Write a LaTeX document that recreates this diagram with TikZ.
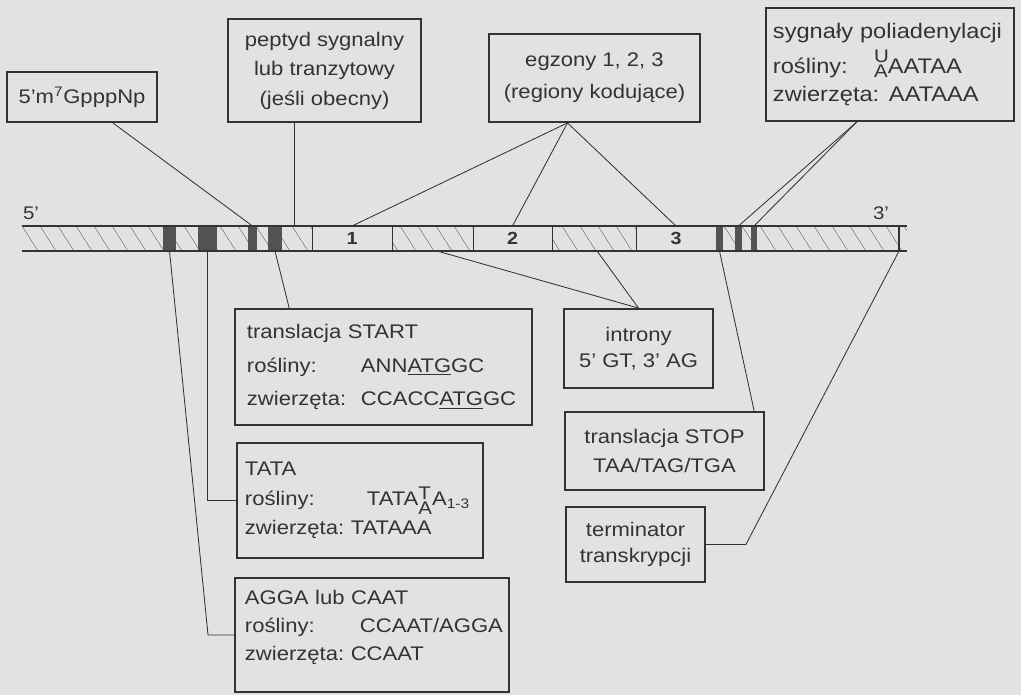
\documentclass[tikz,border=0pt]{standalone}
\usepackage{fontspec}
\setmainfont{Liberation Sans}[FakeStretch=1.12]
\definecolor{paper}{gray}{0.885}
\definecolor{ink}{gray}{0.2}
\definecolor{bandgray}{gray}{0.32}
\newcommand{\pairfont}{\fontsize{13}{13}\selectfont}
\newcommand{\stackpair}[4]{\raisebox{#3}{\rlap{\pairfont #1}}\raisebox{#4}{\pairfont #2}}
\begin{document}
\begin{tikzpicture}[x=0.025cm, y=-0.025cm,
        box/.style={draw=ink, line width=1.3pt, text=ink, align=center, inner sep=0pt, font=\fontsize{14}{21}\selectfont},
        list/.style={box, align=left},
        exon/.style={draw=ink, line width=0.7pt, fill=paper, text=ink, minimum height=0.625cm, inner sep=0pt, outer sep=0pt, font=\fontsize{12.5}{12.5}\selectfont\bfseries},
        band/.style={fill=bandgray, minimum height=0.625cm, inner sep=0pt, outer sep=0pt},
        endlabel/.style={text=ink, inner sep=0pt, font=\fontsize{13}{13}\selectfont},
        hatch/.style={draw=ink!70, line width=0.35pt},
        bar/.style={draw=ink, line width=0.8pt},
        link/.style={draw=ink, line width=0.6pt}
    ]
        \fill[paper] (0,0) rectangle (1021,695);
        \useasboundingbox (0,0) rectangle (1021,695);

        % Hatched gene body
        \begin{scope}
            \clip (22,226) rectangle (907,251);
            \foreach \x in {4,22,...,910}
                \draw[hatch] (\x,226) -- ++(16,25);
        \end{scope}

        % Exons
        \node[exon, minimum width=2cm] (ex1) at (352,238.5) {1};
        \node[exon, minimum width=1.975cm] (ex2) at (512.5,238.5) {2};
        \node[exon, minimum width=2cm] (ex3) at (676,238.5) {3};

        % Signal regions on the gene
        \node[band, minimum width=0.325cm] (b1) at (169.5,238.5) {};
        \node[band, minimum width=0.475cm] (b2) at (207.5,238.5) {};
        \node[band, minimum width=0.225cm] (b3) at (252.5,238.5) {};
        \node[band, minimum width=0.35cm] (b4) at (275,238.5) {};
        \node[band, minimum width=0.175cm] (b5) at (719.5,238.5) {};
        \node[band, minimum width=0.175cm] (b6) at (738.5,238.5) {};
        \node[band, minimum width=0.15cm] (b7) at (754,238.5) {};

        % Gene outline
        \draw[bar] (22,226) -- (907,226) (22,251) -- (907,251) (899,226) -- (899,251);
        \coordinate (pep) at (294,226);
        \coordinate (in1) at (437,251);
        \coordinate (in2) at (597,251);
        \coordinate (tend) at (899,251);
        \node[endlabel] (five) at (31,213) {5'};
        \node[endlabel] (three) at (881,213) {3'};

        % Boxes above the gene
        \node[box, minimum width=3.75cm, minimum height=1.25cm] (cap) at (82,97) {5'm\textsuperscript{7}GpppNp};
        \node[box, minimum width=4.825cm, minimum height=2.575cm] (peptyd) at (324.5,70.5) {peptyd sygnalny\\lub tranzytowy\\(jeśli obecny)};
        \node[box, minimum width=5.275cm, minimum height=2.2cm, font=\fontsize{14}{23}\selectfont] (egzony) at (594.5,78) {egzony 1, 2, 3\\(regiony kodujące)};
        \node[list, text width=5.85cm, inner xsep=0.175cm, minimum height=2.825cm, font=\fontsize{15}{20}\selectfont] (polya) at (890,64.5) {sygnały poliadenylacji\\[5pt]\makebox[2.53cm][l]{rośliny:}\stackpair{U}{A}{0.5em}{-0.2em}AATAA\\\makebox[2.9cm][l]{zwierzęta:}AATAAA};

        % Boxes below the gene
        \node[list, text width=6.825cm, inner xsep=0.3cm, minimum height=2.9cm, font=\fontsize{14}{24}\selectfont] (start) at (383.5,367) {translacja START\\\makebox[2.85cm][l]{rośliny:}ANN\underline{ATG}GC\\\makebox[2.85cm][l]{zwierzęta:}CCACC\underline{ATG}GC};
        \node[list, text width=5.75cm, inner xsep=0.2cm, minimum height=2.875cm] (tata) at (360,500.5) {TATA\\\makebox[3.05cm][l]{rośliny:}TATA\stackpair{T}{A}{0.3em}{-0.45em}A\textsubscript{1-3}\\zwierzęta:\ TATAAA};
        \node[list, text width=6.35cm, inner xsep=0.25cm, minimum height=2.85cm, text depth=54pt, font=\fontsize{14}{20}\selectfont] (agga) at (372,635) {AGGA lub CAAT\\\makebox[2.875cm][l]{rośliny:}CCAAT/AGGA\\zwierzęta:\ CCAAT};
        \node[box, minimum width=3.725cm, minimum height=1.975cm, font=\fontsize{14}{18}\selectfont] (introny) at (638.5,348.5) {introny\\5' GT, 3' AG};
        \node[box, minimum width=4.975cm, minimum height=1.95cm, font=\fontsize{14}{20}\selectfont] (stop) at (664.5,451) {translacja STOP\\TAA/TAG/TGA};
        \node[box, minimum width=3.475cm, minimum height=1.875cm, font=\fontsize{14}{19}\selectfont] (term) at (635.5,544.5) {terminator\\transkrypcji};

        % Connectors from the upper boxes
        \draw[link] (cap.-40) -- (b3.north);
        \draw[link] (pep) -- (pep |- peptyd.south);
        \draw[link] (egzony.-121) -- (ex1.north);
        \draw[link] (egzony.-121) -- (ex2.north);
        \draw[link] (egzony.-121) -- (ex3.north);
        \draw[link] (polya.-120) -- (b6.north);
        \draw[link] (polya.-120) -- (b7.north);

        % Connectors from the lower boxes
        \draw[link] (start.148) -- (b4.south);
        \draw[link] (introny.north) -- (in1);
        \draw[link] (introny.north) -- (in2);
        \draw[link] (stop.24) -- (b5.south);
        \draw[link] (term.east) -- ++(40,0) -- (tend);
        \draw[link] (b2.south) |- (tata.west);
        \draw[link] (b1.south) -- ([xshift=-0.65cm]agga.west) -- (agga.west);
    \end{tikzpicture}
\end{document}
